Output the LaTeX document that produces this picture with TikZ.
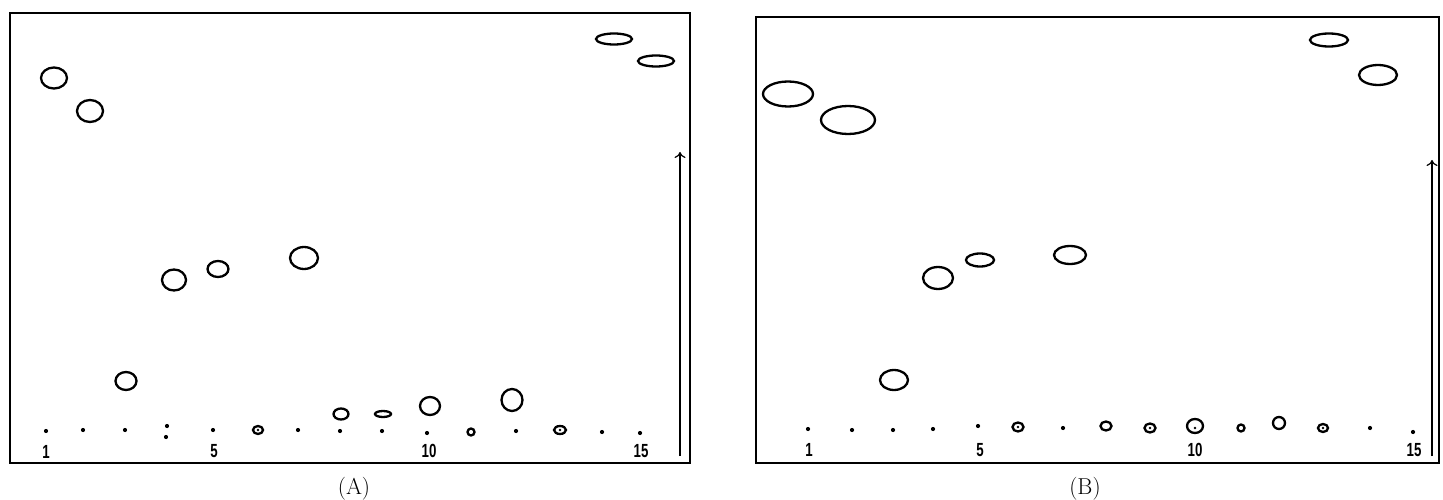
\documentclass[tikz,border=0pt]{standalone}
\usepackage{fontspec}
\usetikzlibrary{arrows.meta}
\newfontfamily\numfont{Liberation Sans}[FakeStretch=0.7]
\begin{document}
\begin{tikzpicture}[x=1pt,y=-1pt,
  frame/.style={line width=2.6pt},
  spot/.style={line width=2.3pt},
  lanedot/.style={fill=black},
  lanenum/.style={font=\numfont\bfseries\fontsize{19}{19}\selectfont, inner sep=0pt},
  panellabel/.style={font=\fontsize{23}{23}\selectfont, inner sep=0pt},
  migr/.style={line width=1.2pt, -{To[length=6pt,width=11pt]}}]
\useasboundingbox (0,0) rectangle (1443,500);
% ---------- Panel A ----------
\draw[frame] (10,13) rectangle (690,463);
\foreach \x/\y in {46/431,83/430,125/430,340/431,382/431,427/433,516/431,602/432,640/433,298/430}
  \fill[lanedot] (\x,\y) circle (2.1);
\fill[lanedot] (167,426) circle (2.1);
\fill[lanedot] (166,437) circle (2.1);
\fill[lanedot] (213,430) circle (2.1);
% spots A
\draw[spot] (54,78) ellipse (13 and 10.5);
\draw[spot] (90,111) ellipse (13 and 11);
\draw[spot] (126,381) ellipse (10.5 and 9);
\draw[spot] (174,280) ellipse (12 and 10.5);
\draw[spot] (218,269) ellipse (10.5 and 8);
\draw[spot] (258,430) ellipse (5 and 4);
\fill (258,430) circle (1.3);
\draw[spot] (304,258) ellipse (14 and 11);
\draw[spot] (341,414) ellipse (7.5 and 5.5);
\draw[spot] (383,414) ellipse (8 and 3);
\draw[spot] (430,406) ellipse (10 and 9);
\draw[spot] (471,432) ellipse (3.5 and 3.5);
\draw[spot] (512,400) ellipse (10.5 and 11);
\draw[spot] (560,430) ellipse (6 and 4);
\fill (560,430) circle (1.3);
\draw[spot] (614,39) ellipse (18 and 5.5);
\draw[spot] (656,61) ellipse (18 and 5.5);
% numbers A
\node[lanenum] (a1) at (46,452) {1};
\node[lanenum] (a5) at (214,451) {5};
\node[lanenum] (a10) at (429,451) {10};
\node[lanenum] (a15) at (641,451) {15};
% arrow A
\coordinate (aS) at (680,456);
\coordinate (aE) at (680,152);
\draw[migr] (aS) -- (aE);
\node[panellabel] (la) at (354,489) {(A)};
% ---------- Panel B ----------
\draw[frame] (756,17) rectangle (1439,463);
\foreach \x/\y in {808/429,852/430,893/430,933/429,978/426,1063/428,1370/428,1413/432}
  \fill[lanedot] (\x,\y) circle (2.1);
% spots B
\draw[spot] (788,94) ellipse (25 and 12.5);
\draw[spot] (848,120) ellipse (27 and 14);
\draw[spot] (894,380) ellipse (14 and 10);
\draw[spot] (938,278) ellipse (15 and 11);
\draw[spot] (980,260) ellipse (14 and 6.5);
\draw[spot] (1018,427) ellipse (5.5 and 4.5);
\fill (1018,427) circle (1.3);
\draw[spot] (1070,255) ellipse (16 and 9);
\draw[spot] (1106,426) ellipse (5.5 and 4.5);
\draw[spot] (1150,428) ellipse (5.5 and 4.5);
\fill (1150,428) circle (1.3);
\draw[spot] (1195,426) ellipse (8 and 7);
\fill (1195,428) circle (1.3);
\draw[spot] (1241,428) ellipse (3.5 and 3.5);
\draw[spot] (1279,423) ellipse (6 and 6);
\draw[spot] (1323,428) ellipse (5 and 4);
\fill (1323,428) circle (1.3);
\draw[spot] (1329,40) ellipse (19 and 6.5);
\draw[spot] (1378,75) ellipse (19 and 10);
% numbers B
\node[lanenum] (b1) at (809,450) {1};
\node[lanenum] (b5) at (980,450) {5};
\node[lanenum] (b10) at (1195,450) {10};
\node[lanenum] (b15) at (1414,450) {15};
% arrow B
\coordinate (bS) at (1432,456);
\coordinate (bE) at (1432,160);
\draw[migr] (bS) -- (bE);
\node[panellabel] (lb) at (1085,489) {(B)};
\end{tikzpicture}
\end{document}
